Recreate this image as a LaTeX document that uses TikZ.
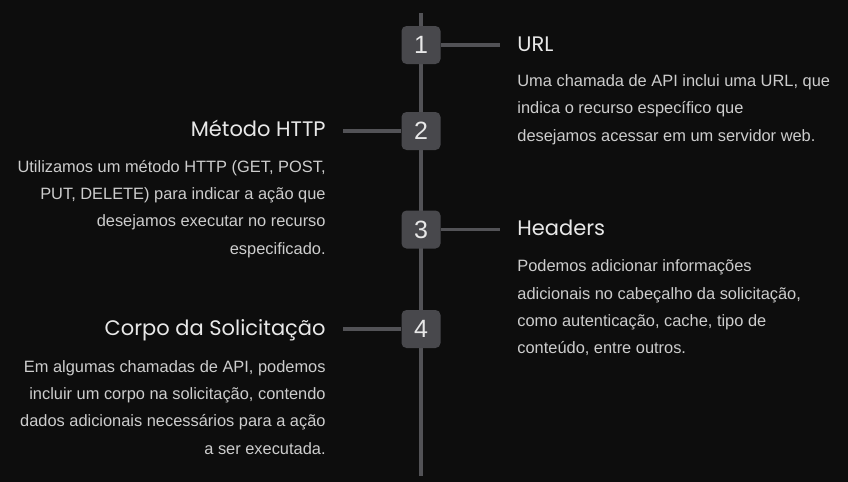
\documentclass[tikz,border=0pt]{standalone}
\usepackage{fontspec}
\setmainfont{Liberation Sans}
\newfontfamily\titlefont{Poppins}
\usepackage{xcolor}
\definecolor{bgdark}{RGB}{13,13,13}
\definecolor{boxgray}{RGB}{72,72,76}
\definecolor{linegray}{RGB}{82,82,86}
\definecolor{titletext}{RGB}{232,232,232}
\definecolor{bodytext}{RGB}{205,205,205}
\tikzset{
  numbox/.style={fill=boxgray, rounded corners=2.5pt, minimum width=19.5pt,
    minimum height=19pt, inner sep=0pt, text=titletext,
    font=\fontsize{12.5}{14}\selectfont},
  connector/.style={draw=linegray, line width=1.75pt},
  headline/.style={inner sep=0pt, text=titletext, font=\titlefont\fontsize{10.5}{13}\selectfont},
  bodytext/.style={inner sep=0pt, text=bodytext, font=\fontsize{8.2}{13.6}\selectfont}
}

\begin{document}
\begin{tikzpicture}[x=0.5pt, y=-0.5pt]
  % Background
  \fill[bgdark] (0,0) rectangle (848,482);
  \useasboundingbox (0,0) rectangle (848,482);

  % Timeline
  \coordinate (top) at (421,13);
  \coordinate (bottom) at (421,476);
  \draw[linegray, line width=2pt] (top) -- (bottom);

  % Numbered boxes
  \node[numbox] (n1) at (421,45) {1};
  \node[numbox] (n2) at (421,131) {2};
  \node[numbox] (n3) at (421,229.5) {3};
  \node[numbox] (n4) at (421,329) {4};

  % Connector ends
  \coordinate (c1) at (500,45);
  \coordinate (c2) at (343,131);
  \coordinate (c3) at (500,229.5);
  \coordinate (c4) at (343,329);
  \draw[connector] (n1.east) -- (c1);
  \draw[connector] (n2.west) -- (c2);
  \draw[connector] (n3.east) -- (c3);
  \draw[connector] (n4.west) -- (c4);

  % Titles
  \node[headline, anchor=base west] (t1) at (517,51) {URL};
  \node[headline, anchor=base east] (t2) at (326,136) {Método HTTP};
  \node[headline, anchor=base west] (t3) at (517,235) {Headers};
  \node[headline, anchor=base east] (t4) at (326,335) {Corpo da Solicitação};

  % Descriptions (base = last line)
  \node[bodytext, anchor=base west, align=left] (d1) at (517,141)
    {Uma chamada de API inclui uma URL, que\\indica o recurso específico que\\desejamos acessar em um servidor web.};
  \node[bodytext, anchor=base east, align=right] (d2) at (326,254)
    {Utilizamos um método HTTP (GET, POST,\\PUT, DELETE) para indicar a ação que\\desejamos executar no recurso\\especificado.};
  \node[bodytext, anchor=base west, align=left] (d3) at (517,353.5)
    {Podemos adicionar informações\\adicionais no cabeçalho da solicitação,\\como autenticação, cache, tipo de\\conteúdo, entre outros.};
  \node[bodytext, anchor=base east, align=right] (d4) at (326,454)
    {Em algumas chamadas de API, podemos\\incluir um corpo na solicitação, contendo\\dados adicionais necessários para a ação\\a ser executada.};

\end{tikzpicture}
\end{document}
